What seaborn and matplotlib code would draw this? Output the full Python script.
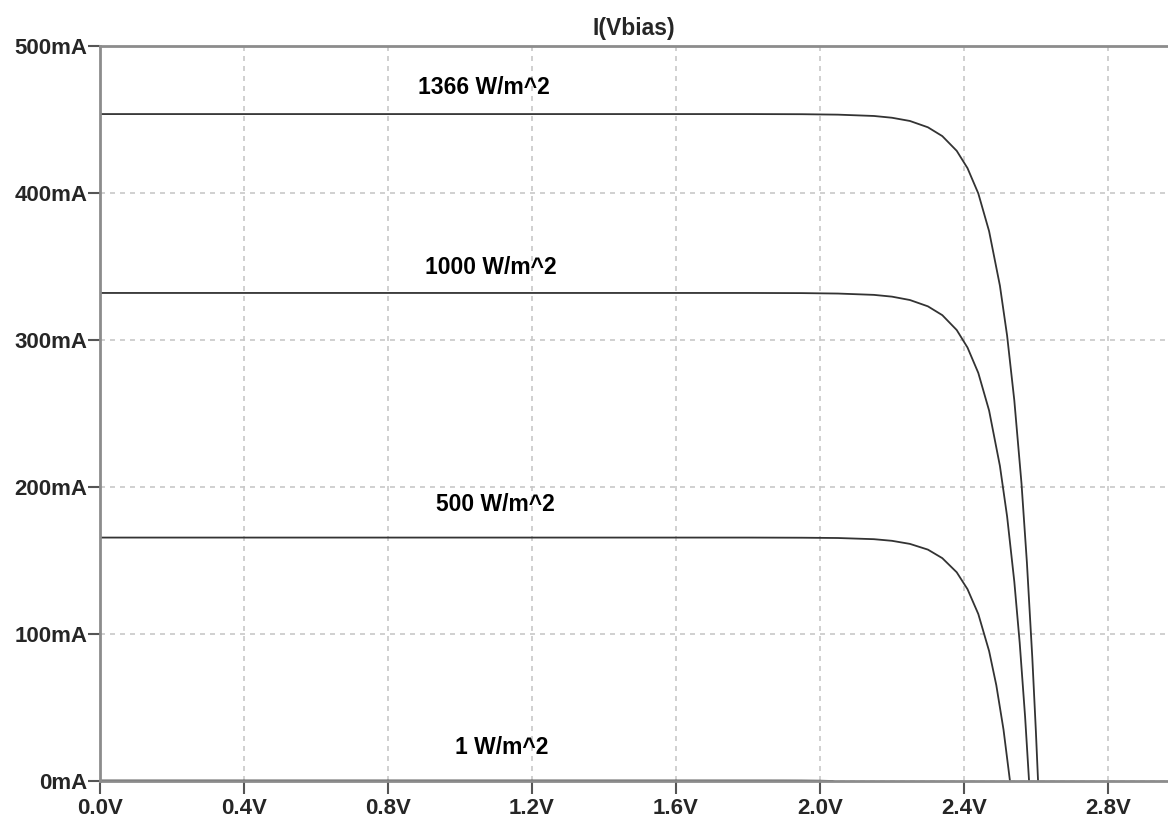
import matplotlib
matplotlib.use('Agg')
import matplotlib.pyplot as plt
import seaborn as sns
import pandas as pd

# I-V curves (volts, mA)
v_1366 = [0.0, 0.5, 1.0, 1.5, 1.8, 1.95, 2.05, 2.15, 2.2, 2.25, 2.3, 2.34, 2.38, 2.41,
          2.44, 2.47, 2.5, 2.52, 2.54, 2.56, 2.575, 2.59, 2.6, 2.606]
i_1366 = [453.7, 453.7, 453.7, 453.7, 453.7, 453.6, 453.3, 452.4, 451.2, 449.0, 444.7, 438.7, 428.7, 416.9,
          399.7, 374.0, 337.0, 303.0, 259.0, 202.4, 148.7, 84.0, 33.6, 0.0]

v_1000 = [0.0, 0.5, 1.0, 1.5, 1.8, 1.95, 2.05, 2.15, 2.2, 2.25, 2.3, 2.34, 2.38, 2.41,
          2.44, 2.47, 2.5, 2.52, 2.54, 2.555, 2.57, 2.581]
i_1000 = [332.0, 332.0, 332.0, 332.0, 332.0, 331.9, 331.6, 330.7, 329.5, 327.2, 322.9, 316.9, 306.8, 294.9,
          277.6, 252.0, 214.4, 180.0, 135.7, 94.0, 43.7, 0.0]

v_500 = [0.0, 0.5, 1.0, 1.5, 1.8, 1.95, 2.05, 2.15, 2.2, 2.25, 2.3, 2.34, 2.38, 2.41,
         2.44, 2.47, 2.49, 2.51, 2.528]
i_500 = [165.6, 165.6, 165.6, 165.6, 165.6, 165.5, 165.3, 164.5, 163.4, 161.3, 157.4, 151.6, 142.0, 130.5,
         113.6, 88.4, 65.2, 35.0, 0.0]

v_1 = [0.0, 1.0, 1.8, 1.9, 1.95, 2.0, 2.036]
i_1 = [0.33, 0.33, 0.33, 0.32, 0.3, 0.2, 0.0]

labels = ['1366 W/m^2', '1000 W/m^2', '500 W/m^2', '1 W/m^2']
label_x = [1.067, 1.086, 1.097, 1.117]
label_y = [472, 349, 188, 23]

x_ticks = [0.0, 0.4, 0.8, 1.2, 1.6, 2.0, 2.4, 2.8]
x_ticklabels = ['0.0V', '0.4V', '0.8V', '1.2V', '1.6V', '2.0V', '2.4V', '2.8V']
y_ticks = [0, 100, 200, 300, 400, 500]
y_ticklabels = ['0mA', '100mA', '200mA', '300mA', '400mA', '500mA']

sns.set_theme(style='white')
plt.rcParams['font.family'] = ['Liberation Sans', 'DejaVu Sans']

fig = plt.figure(figsize=(11.68, 8.22), dpi=100)
ax = fig.add_axes([100 / 1168, 41 / 822, 1068 / 1168, 735 / 822])

ax.set_xlim(0, 2.967)
ax.set_ylim(0, 500)
ax.set_xticks(x_ticks)
ax.set_xticklabels(x_ticklabels)
ax.set_yticks(y_ticks)
ax.set_yticklabels(y_ticklabels)
ax.grid(True, color='#c8c8c8', linestyle=(0, (3, 3)), linewidth=1.2)

curves = [(v_1366, i_1366), (v_1000, i_1000), (v_500, i_500), (v_1, i_1)]
for v, i in curves:
    df = pd.DataFrame({'V': v, 'I': i})
    sns.lineplot(data=df, x='V', y='I', ax=ax, color='#333333', linewidth=1.3, estimator=None)

for lab, lx, ly in zip(labels, label_x, label_y):
    ax.text(lx, ly, lab, ha='center', va='center', fontsize=16.5, fontweight='bold', color='black')

ax.set_xlabel('')
ax.set_ylabel('')
ax.set_title('I(Vbias)', fontsize=16.5, fontweight='bold', pad=8)

for s in ['left', 'top', 'bottom']:
    ax.spines[s].set_color('#8c8c8c')
    ax.spines[s].set_linewidth(2)
ax.spines['right'].set_visible(False)

ax.tick_params(axis='x', direction='out', length=9, width=1.5, color='#555555', pad=3,
               labelsize=16, bottom=True)
ax.tick_params(axis='y', direction='out', length=9, width=1.5, color='#555555', pad=0,
               labelsize=16, left=True)
for t in ax.get_xticklabels() + ax.get_yticklabels():
    t.set_fontweight('bold')

fig.savefig('out.png', dpi=100)
plt.close(fig)
